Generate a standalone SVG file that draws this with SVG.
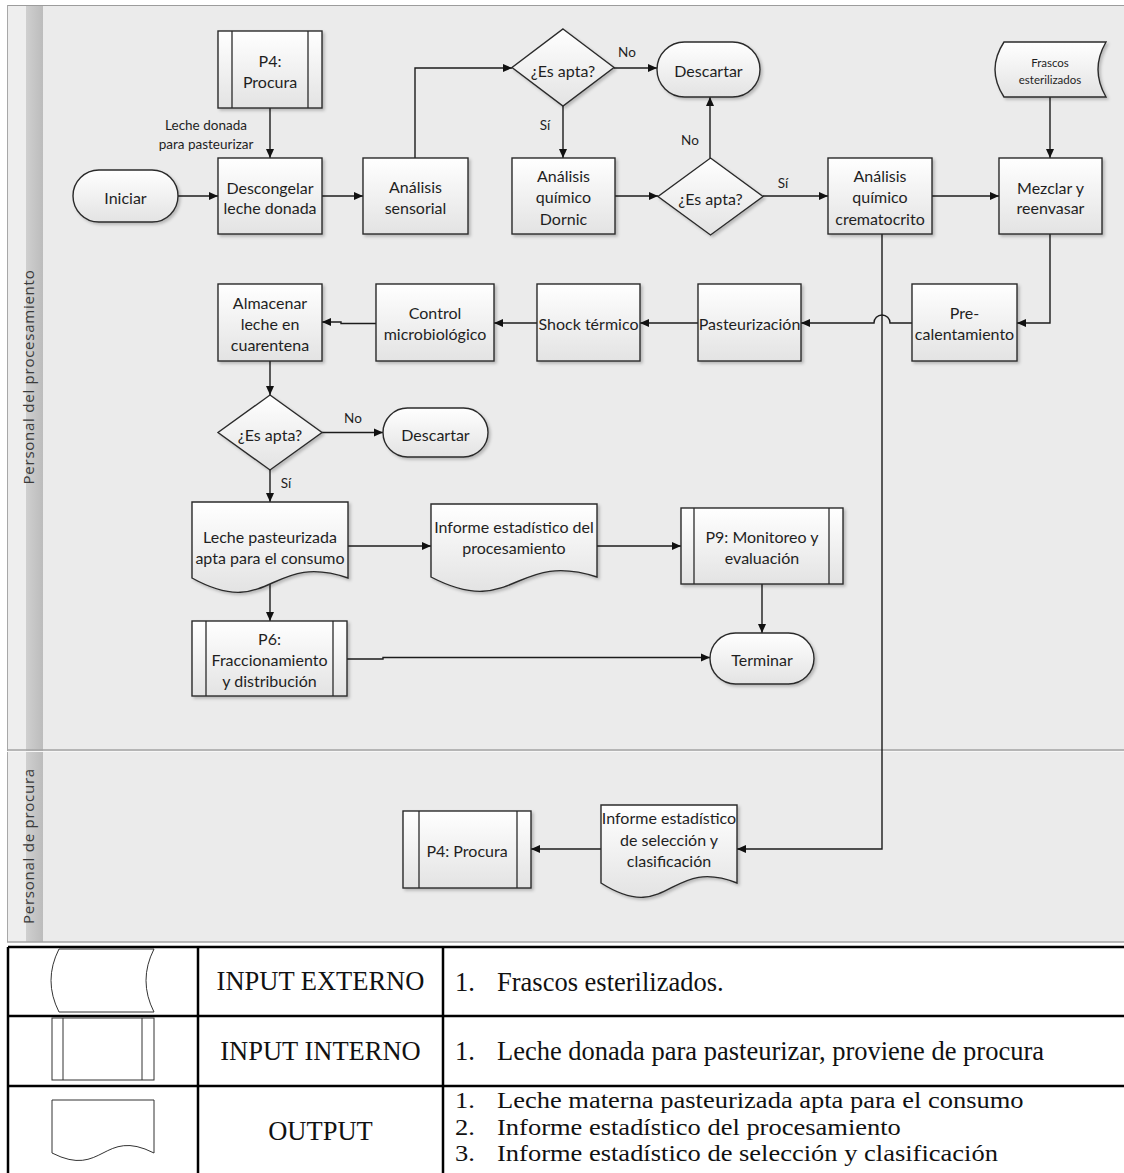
<svg xmlns="http://www.w3.org/2000/svg" width="1124" height="1173" viewBox="0 0 1124 1173">
  <defs>
    <linearGradient id="fillBox" x1="0" y1="0" x2="0" y2="1">
      <stop offset="0" stop-color="#ffffff"/>
      <stop offset="1" stop-color="#e3e3e3"/>
    </linearGradient>
    <linearGradient id="laneBar" x1="0" y1="0" x2="1" y2="0">
      <stop offset="0" stop-color="#cfcfcf"/>
      <stop offset="1" stop-color="#bcbcbc"/>
    </linearGradient>
    <filter id="shadow" x="-10%" y="-10%" width="130%" height="130%">
      <feDropShadow dx="2" dy="2" stdDeviation="1.5" flood-color="#000" flood-opacity="0.22"/>
    </filter>
    <marker id="arrow" markerUnits="userSpaceOnUse" markerWidth="10" markerHeight="9" refX="9" refY="4.5" orient="auto">
      <path d="M0,0.5 L9,4.5 L0,8.5 z" fill="#111"/>
    </marker>
    <style>
      .shape { fill: url(#fillBox); stroke: #2b2b2b; stroke-width: 1.4; filter: url(#shadow); }
      .inner { fill: none; stroke: #2b2b2b; stroke-width: 1.3; }
      .t { font-family: Lato, "Liberation Sans", sans-serif; font-size: 16px; fill: #1f1f1f; text-anchor: middle; dominant-baseline: central; }
      .s { font-size: 13.5px; }
      .xs { font-size: 11.5px; }
      .conn { fill: none; stroke: #1c1c1c; stroke-width: 1.4; }
      .arr { marker-end: url(#arrow); }
      .lane { font-family: "Open Sans", "Liberation Sans", sans-serif; font-size: 15px; letter-spacing: 0.75px; fill: #3a3a3a; text-anchor: middle; dominant-baseline: central; }
      .grid { stroke: #000; stroke-width: 2.5; fill: none; }
      .sym { fill: #fff; stroke: #333; stroke-width: 1; }
      .tt { font-family: "Liberation Serif", "Times New Roman", serif; font-size: 26.5px; fill: #111; }
    </style>
  </defs>

  <!-- page and swimlane frame -->
  <rect x="0" y="0" width="1124" height="1173" fill="#ffffff"/>
  <rect x="7" y="5" width="1117" height="937" fill="#ebebeb"/>
  <rect x="7" y="5" width="19" height="937" fill="#eeeeee"/>
  <rect x="26" y="5" width="17" height="937" fill="url(#laneBar)"/>
  <line x1="7" y1="5.5" x2="1124" y2="5.5" stroke="#9c9c9c" stroke-width="1.2"/>
  <line x1="7.5" y1="5" x2="7.5" y2="942" stroke="#a8a8a8" stroke-width="1"/>
  <line x1="7" y1="750" x2="1124" y2="750" stroke="#a3a3a3" stroke-width="1.4"/>
  <line x1="7" y1="751.5" x2="1124" y2="751.5" stroke="#f6f6f6" stroke-width="1"/>
  <line x1="7" y1="942" x2="1124" y2="942" stroke="#a3a3a3" stroke-width="1.4"/>
  <text class="lane" transform="translate(28,377) rotate(-90)">Personal del procesamiento</text>
  <text class="lane" transform="translate(28,846) rotate(-90)">Personal de procura</text>

  <!-- connectors -->
  <g id="connectors">
    <path class="conn arr" d="M178,196 H218"/>
    <path class="conn arr" d="M270,108 V158"/>
    <path class="conn arr" d="M322,196 H363"/>
    <path class="conn arr" d="M415,158 V68 H512"/>
    <path class="conn arr" d="M614,68 H657"/>
    <path class="conn arr" d="M563,106 V158"/>
    <path class="conn arr" d="M615,196 H658"/>
    <path class="conn arr" d="M710,158 V97"/>
    <path class="conn arr" d="M763,196 H828"/>
    <path class="conn arr" d="M932,196 H999"/>
    <path class="conn arr" d="M1050,97 V158"/>
    <path class="conn arr" d="M1050,234 V323 H1017"/>
    <path class="conn arr" d="M912,323 H890 A8,8 0 0 0 874,323 H801"/>
    <path class="conn arr" d="M698,323 H640"/>
    <path class="conn arr" d="M537,323 H494"/>
    <path class="conn arr" d="M376,323.5 H341 V322 H322"/>
    <path class="conn arr" d="M270,361 V395"/>
    <path class="conn arr" d="M322,432.5 H383"/>
    <path class="conn arr" d="M270,470 V502"/>
    <path class="conn arr" d="M348,546 H431"/>
    <path class="conn arr" d="M597,546 H681"/>
    <path class="conn arr" d="M270,584 V621"/>
    <path class="conn arr" d="M347,659 H383 V657.5 H710"/>
    <path class="conn arr" d="M762,584 V633"/>
    <path class="conn arr" d="M882,234 V849 H737"/>
    <path class="conn arr" d="M601,849 H531"/>
    <text class="t s" x="627" y="52">No</text>
    <text class="t s" x="545" y="125">Sí</text>
    <text class="t s" x="690" y="140">No</text>
    <text class="t s" x="783" y="183">Sí</text>
    <text class="t s" x="353" y="418">No</text>
    <text class="t s" x="286" y="483">Sí</text>
    <text class="t s" x="206" y="125">Leche donada</text>
    <text class="t s" x="206" y="144">para pasteurizar</text>
  </g>

  <!-- nodes: processing lane -->
  <g id="p4-procura-top">
    <rect class="shape" x="218" y="31" width="104" height="77"/>
    <path class="inner" d="M232,31 V108 M308,31 V108"/>
    <text class="t" x="270" y="60.5">P4:</text>
    <text class="t" x="270" y="81.5">Procura</text>
  </g>
  <g id="iniciar">
    <rect class="shape" x="73" y="170" width="105" height="52" rx="26"/>
    <text class="t" x="125.5" y="197">Iniciar</text>
  </g>
  <g id="descongelar">
    <rect class="shape" x="218" y="158" width="104" height="76"/>
    <text class="t" x="270" y="187">Descongelar</text>
    <text class="t" x="270" y="207.5">leche donada</text>
  </g>
  <g id="analisis-sensorial">
    <rect class="shape" x="363" y="158" width="105" height="76"/>
    <text class="t" x="415.5" y="186.5">Análisis</text>
    <text class="t" x="415.5" y="207.5">sensorial</text>
  </g>
  <g id="decision-1">
    <polygon class="shape" points="563,29 614,67.5 563,106 512,67.5"/>
    <text class="t" x="563" y="70">¿Es apta?</text>
  </g>
  <g id="descartar-1">
    <rect class="shape" x="657" y="42" width="103" height="55" rx="27.5"/>
    <text class="t" x="708.5" y="70">Descartar</text>
  </g>
  <g id="analisis-dornic">
    <rect class="shape" x="512" y="158" width="103" height="76"/>
    <text class="t" x="563.5" y="175">Análisis</text>
    <text class="t" x="563.5" y="196.5">químico</text>
    <text class="t" x="563.5" y="218">Dornic</text>
  </g>
  <g id="decision-2">
    <polygon class="shape" points="710.5,158 763,196.5 710.5,235 658,196.5"/>
    <text class="t" x="710.5" y="198">¿Es apta?</text>
  </g>
  <g id="analisis-crematocrito">
    <rect class="shape" x="828" y="158" width="104" height="76"/>
    <text class="t" x="880" y="175">Análisis</text>
    <text class="t" x="880" y="196.5">químico</text>
    <text class="t" x="880" y="218">crematocrito</text>
  </g>
  <g id="frascos-esterilizados">
    <path class="shape" d="M1004,42 H1106 Q1090,69.5 1106,97 H1004 Q986,69.5 1004,42 Z"/>
    <text class="t xs" x="1050" y="62">Frascos</text>
    <text class="t xs" x="1050" y="79">esterilizados</text>
  </g>
  <g id="mezclar">
    <rect class="shape" x="999" y="158" width="103" height="76"/>
    <text class="t" x="1050.5" y="187">Mezclar y</text>
    <text class="t" x="1050.5" y="207.5">reenvasar</text>
  </g>
  <g id="precalentamiento">
    <rect class="shape" x="912" y="284" width="105" height="77"/>
    <text class="t" x="964.5" y="312">Pre-</text>
    <text class="t" x="964.5" y="333.5">calentamiento</text>
  </g>
  <g id="pasteurizacion">
    <rect class="shape" x="698" y="284" width="103" height="77"/>
    <text class="t" x="749.5" y="323">Pasteurización</text>
  </g>
  <g id="shock-termico">
    <rect class="shape" x="537" y="284" width="103" height="77"/>
    <text class="t" x="588.5" y="323">Shock térmico</text>
  </g>
  <g id="control-microbiologico">
    <rect class="shape" x="376" y="284" width="118" height="77"/>
    <text class="t" x="435" y="312">Control</text>
    <text class="t" x="435" y="333.5">microbiológico</text>
  </g>
  <g id="almacenar">
    <rect class="shape" x="218" y="284" width="104" height="77"/>
    <text class="t" x="270" y="302">Almacenar</text>
    <text class="t" x="270" y="323">leche en</text>
    <text class="t" x="270" y="344.5">cuarentena</text>
  </g>
  <g id="decision-3">
    <polygon class="shape" points="270,395 322,432.5 270,470 218,432.5"/>
    <text class="t" x="270" y="434">¿Es apta?</text>
  </g>
  <g id="descartar-2">
    <rect class="shape" x="383" y="408" width="105" height="49" rx="24.5"/>
    <text class="t" x="435.5" y="434">Descartar</text>
  </g>
  <g id="leche-pasteurizada">
    <path class="shape" d="M192,502 H348 V578 C270,551 270,621 192,578 Z"/>
    <text class="t" x="270" y="536">Leche pasteurizada</text>
    <text class="t" x="270" y="557">apta para el consumo</text>
  </g>
  <g id="informe-procesamiento">
    <path class="shape" d="M431,504 H597 V577 C514,550 514,620 431,577 Z"/>
    <text class="t" x="514" y="526">Informe estadístico del</text>
    <text class="t" x="514" y="547">procesamiento</text>
  </g>
  <g id="p9-monitoreo">
    <rect class="shape" x="681" y="508" width="162" height="76"/>
    <path class="inner" d="M694,508 V584 M829,508 V584"/>
    <text class="t" x="762" y="536">P9: Monitoreo y</text>
    <text class="t" x="762" y="557">evaluación</text>
  </g>
  <g id="p6-fraccionamiento">
    <rect class="shape" x="192" y="621" width="155" height="75"/>
    <path class="inner" d="M206,621 V696 M333,621 V696"/>
    <text class="t" x="269.5" y="638.5">P6:</text>
    <text class="t" x="269.5" y="659.5">Fraccionamiento</text>
    <text class="t" x="269.5" y="680.5">y distribución</text>
  </g>
  <g id="terminar">
    <rect class="shape" x="710" y="633" width="104" height="51" rx="25.5"/>
    <text class="t" x="762" y="659">Terminar</text>
  </g>

  <!-- nodes: procurement lane -->
  <g id="informe-seleccion">
    <path class="shape" d="M601,805 H737 V883 C669,856 669,926 601,883 Z"/>
    <text class="t" x="669" y="817">Informe estadístico</text>
    <text class="t" x="669" y="839">de selección y</text>
    <text class="t" x="669" y="860">clasificación</text>
  </g>
  <g id="p4-procura-bottom">
    <rect class="shape" x="403" y="811" width="128" height="77"/>
    <path class="inner" d="M419,811 V888 M517,811 V888"/>
    <text class="t" x="467" y="850">P4: Procura</text>
  </g>

  <!-- legend table -->
  <g id="legend">
    <rect x="7" y="945" width="1117" height="228" fill="#ffffff"/>
    <path class="grid" d="M8,947 H1124 M8,1016 H1124 M8,1086 H1124 M8,947 V1173 M198,947 V1173 M443,947 V1173"/>
    <path class="sym" d="M59,949 H154 Q138,980.5 154,1012 H59 Q43,980.5 59,949 Z"/>
    <rect class="sym" x="52" y="1018" width="102" height="62"/>
    <path class="sym" d="M63,1018 V1080 M142,1018 V1080"/>
    <path class="sym" d="M52,1100 H154 V1153 C103,1127 103,1179 52,1153 Z"/>
    <text class="tt" x="320.5" y="990" text-anchor="middle">INPUT EXTERNO</text>
    <text class="tt" x="320.5" y="1060" text-anchor="middle">INPUT INTERNO</text>
    <text class="tt" x="320.5" y="1140" text-anchor="middle">OUTPUT</text>
    <text class="tt" x="455" y="991">1.</text>
    <text class="tt" x="497" y="991">Frascos esterilizados.</text>
    <text class="tt" x="455" y="1060">1.</text>
    <text class="tt" x="497" y="1060">Leche donada para pasteurizar, proviene de procura</text>
    <!-- output list: tight line pitch, glyphs slightly condensed vertically -->
    <g transform="translate(0,1108) scale(1,0.88)">
      <text class="tt" x="455" y="0">1.</text>
      <text class="tt" x="497" y="0">Leche materna pasteurizada apta para el consumo</text>
    </g>
    <g transform="translate(0,1134.5) scale(1,0.88)">
      <text class="tt" x="455" y="0">2.</text>
      <text class="tt" x="497" y="0">Informe estadístico del procesamiento</text>
    </g>
    <g transform="translate(0,1161) scale(1,0.88)">
      <text class="tt" x="455" y="0">3.</text>
      <text class="tt" x="497" y="0">Informe estadístico de selección y clasificación</text>
    </g>
  </g>
</svg>
